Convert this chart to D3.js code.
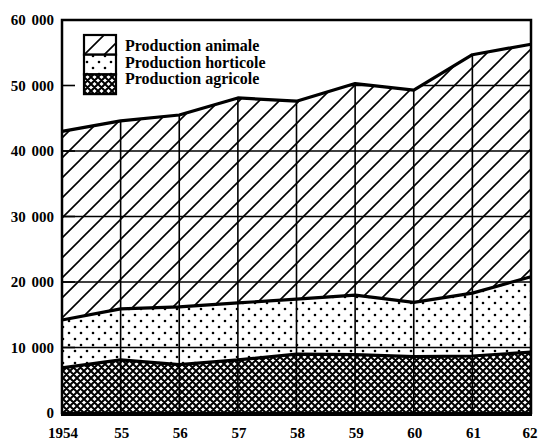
<!DOCTYPE html>
<html>
<head>
<meta charset="utf-8">
<script src="https://cdn.jsdelivr.net/npm/d3@7"></script>
<style>
  body { margin: 0; background: #fff; }
  text { font-family: "Liberation Serif", "DejaVu Serif", serif; font-weight: bold; fill: #000; }
</style>
</head>
<body>
<div id="chart"></div>
<script>
// data (stacked totals, not increments)
var years = [1954, 1955, 1956, 1957, 1958, 1959, 1960, 1961, 1962];
var yearLabels = ["1954", "55", "56", "57", "58", "59", "60", "61", "62"];
var agricole = [6900, 8100, 7400, 8100, 9000, 8900, 8600, 8700, 9300];
var horticole = [14200, 15900, 16200, 16800, 17400, 18000, 16900, 18300, 20800];
var total = [43000, 44600, 45500, 48100, 47600, 50300, 49300, 54700, 56300];
var yTicks = [0, 10000, 20000, 30000, 40000, 50000, 60000];
var legendLabels = ["Production animale", "Production horticole", "Production agricole"];

var W = 538, H = 441;
var margin = {top: 20, right: 7, bottom: 28, left: 62};

var svg = d3.select("#chart").append("svg")
  .attr("width", W)
  .attr("height", H);

var x = d3.scaleLinear().domain([1954, 1962]).range([margin.left, W - margin.right]);
var y = d3.scaleLinear().domain([0, 60000]).range([H - margin.bottom, margin.top]);

// fill patterns
var defs = svg.append("defs");

var hatch = defs.append("pattern")
  .attr("id", "hatch")
  .attr("patternUnits", "userSpaceOnUse")
  .attr("width", 20).attr("height", 20);
hatch.append("rect").attr("width", 20).attr("height", 20).attr("fill", "#fff");
hatch.append("path")
  .attr("d", "M-5,5 L5,-5 M0,20 L20,0 M15,25 L25,15")
  .attr("stroke", "#000").attr("stroke-width", 1.6);

var dots = defs.append("pattern")
  .attr("id", "dots")
  .attr("patternUnits", "userSpaceOnUse")
  .attr("width", 12).attr("height", 12);
dots.append("rect").attr("width", 12).attr("height", 12).attr("fill", "#fff");
dots.append("circle").attr("cx", 3).attr("cy", 3).attr("r", 1.3).attr("fill", "#000");
dots.append("circle").attr("cx", 9).attr("cy", 9).attr("r", 1.3).attr("fill", "#000");

var cross = defs.append("pattern")
  .attr("id", "cross")
  .attr("patternUnits", "userSpaceOnUse")
  .attr("width", 7).attr("height", 7);
cross.append("rect").attr("width", 7).attr("height", 7).attr("fill", "#fff");
cross.append("path")
  .attr("d", "M-1,1 L1,-1 M0,7 L7,0 M6,8 L8,6 M-1,6 L1,8 M0,0 L7,7 M6,-1 L8,1")
  .attr("stroke", "#000").attr("stroke-width", 2);

// stacked areas
var area = function(top, bottom) {
  return d3.area()
    .x(function(d, i) { return x(years[i]); })
    .y0(function(d, i) { return bottom ? y(bottom[i]) : y(0); })
    .y1(function(d, i) { return y(top[i]); })(years);
};

// grid only shows under the top curve
defs.append("clipPath").attr("id", "under")
  .append("path").attr("d", area(total, null));

svg.append("path").attr("d", area(total, horticole)).attr("fill", "url(#hatch)");
svg.append("path").attr("d", area(horticole, agricole)).attr("fill", "url(#dots)");
svg.append("path").attr("d", area(agricole, null)).attr("fill", "url(#cross)");

var grid = svg.append("g").attr("clip-path", "url(#under)");
grid.selectAll("line.h")
  .data(yTicks.slice(1, -1))
  .enter().append("line")
    .attr("x1", x(1954)).attr("x2", x(1962))
    .attr("y1", function(d) { return y(d); })
    .attr("y2", function(d) { return y(d); })
    .attr("stroke", "#000").attr("stroke-width", 1.6);

grid.selectAll("line.v")
  .data(years.slice(1, -1))
  .enter().append("line")
    .attr("x1", function(d) { return x(d); })
    .attr("x2", function(d) { return x(d); })
    .attr("y1", y(0)).attr("y2", y(60000))
    .attr("stroke", "#000").attr("stroke-width", 1.6);

// boundary lines
var line = function(vals) {
  return d3.line()
    .x(function(d, i) { return x(years[i]); })
    .y(function(d) { return y(d); })(vals);
};
[total, horticole, agricole].forEach(function(s) {
  svg.append("path").attr("d", line(s))
    .attr("fill", "none").attr("stroke", "#000").attr("stroke-width", 3.2)
    .attr("stroke-linejoin", "round");
});

// frame
svg.append("rect")
  .attr("x", x(1954)).attr("y", y(60000))
  .attr("width", x(1962) - x(1954)).attr("height", y(0) - y(60000))
  .attr("fill", "none").attr("stroke", "#000").attr("stroke-width", 2.5);
svg.append("line")
  .attr("x1", x(1954) - 1).attr("x2", x(1962) + 1)
  .attr("y1", y(0) + 1).attr("y2", y(0) + 1)
  .attr("stroke", "#000").attr("stroke-width", 4);

// short inward ticks on the y axis
svg.append("g").selectAll("line.t")
  .data(yTicks.slice(1, -1))
  .enter().append("line")
    .attr("x1", x(1954)).attr("x2", x(1954) + 13)
    .attr("y1", function(d) { return y(d); })
    .attr("y2", function(d) { return y(d); })
    .attr("stroke", "#000").attr("stroke-width", 1.6);

var fmt = function(v) { return v === 0 ? "0" : (v / 1000) + " 000"; };
svg.append("g").selectAll("text")
  .data(yTicks)
  .enter().append("text")
    .attr("x", x(1954) - 8)
    .attr("y", function(d) { return y(d) + 5; })
    .attr("text-anchor", "end")
    .attr("font-size", 15)
    .style("word-spacing", "2px")
    .text(fmt);

// x labels
svg.append("g").selectAll("text")
  .data(years)
  .enter().append("text")
    .attr("x", function(d, i) { return i === years.length - 1 ? x(d) - 1 : x(d) + 1; })
    .attr("y", H - 3)
    .attr("text-anchor", "middle")
    .attr("font-size", 15)
    .text(function(d, i) { return yearLabels[i]; });

// legend
var lg = svg.append("g").attr("transform", "translate(84,35)");
var fills = ["url(#hatch)", "url(#dots)", "url(#cross)"];
fills.forEach(function(f, i) {
  lg.append("rect")
    .attr("x", 0).attr("y", i * 19.7)
    .attr("width", 32).attr("height", 19.7)
    .attr("fill", f).attr("stroke", "#000").attr("stroke-width", 2.2);
  lg.append("text")
    .attr("x", 41).attr("y", i * 16.5 + 16)
    .attr("font-size", 16)
    .text(legendLabels[i]);
});
</script>
</body>
</html>
